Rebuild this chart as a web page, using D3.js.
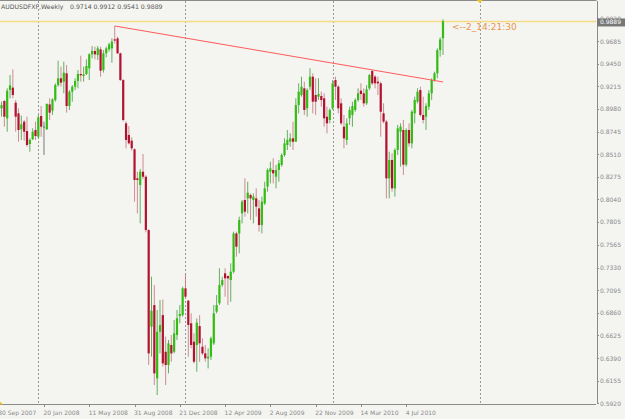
<!DOCTYPE html>
<html>
<head>
<meta charset="utf-8">
<script src="https://cdn.jsdelivr.net/npm/d3@7/dist/d3.min.js"></script>
<style>
  body { margin: 0; background: #f4f4f1; }
  svg { display: block; }
  .axis text { font-family: "DejaVu Sans", sans-serif; font-size: 6px; fill: #8a8a8a; }
  .axis line, .axis path { stroke: #8a8a8a; shape-rendering: crispEdges; }
</style>
</head>
<body>
<div class="canvas"></div>
<script>
// chart info
const symbol = 'AUDUSDFXF';
const period = 'Weekly';
const timeLeft = '<--2_14:21:30';

// weekly bars, 30 Sep 2007 .. 3 Oct 2010 (one value per week)
const open = [
  .9000,.8986,.9062,.8882,.9176,.9201,.9045,.8934,.8768,.8847,
  .8750,.8615,.8664,.8761,.8691,.8906,.8795,.8768,.9027,.8962,
  .9072,.9228,.9298,.9263,.9350,.9010,.9159,.9211,.9270,.9343,
  .9322,.9343,.9402,.9547,.9582,.9540,.9599,.9384,.9558,.9599,
  .9609,.9703,.9713,.9558,.9280,.8830,.8709,.8650,.8560,.8258,
  .8189,.8327,.8275,.7721,.6716,.6941,.6179,.6664,.6837,.6456,
  .6318,.6526,.6456,.6630,.6827,.6837,.7115,.6987,.6751,.6560,
  .6526,.6723,.6508,.6439,.6387,.6404,.6543,.6872,.6959,.7149,
  .7271,.7243,.7201,.7288,.7686,.7686,.7894,.8033,.8050,.8085,
  .8033,.8050,.7946,.7773,.7998,.8172,.8327,.8345,.8275,.8345,
  .8397,.8501,.8605,.8639,.8674,.8639,.9020,.9124,.9194,.8986,
  .9211,.9315,.9124,.9107,.9114,.9090,.8899,.8865,.8986,.9280,
  .9211,.9038,.8795,.8657,.8882,.8917,.8969,.9073,.9170,.9142,
  .9038,.9194,.9374,.9315,.9263,.9246,.8934,.8847,.8258,.8449,
  .8154,.8553,.8743,.8761,.8400,.8761,.8622,.8934,.9055,.9176,
  .8917,.8899,.9003,.9142,.9280,.9350,.9592,.9714
];
const high = [
  .9050,.9055,.9072,.9194,.9332,.9391,.9072,.8986,.8910,.8865,
  .8899,.8674,.8778,.8847,.8917,.9010,.8847,.9038,.9090,.9090,
  .9246,.9481,.9419,.9471,.9436,.9176,.9228,.9298,.9384,.9533,
  .9419,.9495,.9558,.9634,.9627,.9634,.9627,.9592,.9627,.9668,
  .9713,.9842,.9731,.9565,.9290,.8850,.8802,.8684,.8570,.8327,
  .8355,.8511,.8290,.7730,.7236,.7149,.6889,.6993,.7000,.6613,
  .6578,.6630,.6785,.6889,.6941,.7132,.7264,.6993,.6855,.6647,
  .6803,.6837,.6595,.6526,.6491,.6613,.6941,.7045,.7323,.7236,
  .7323,.7250,.7375,.7704,.7704,.7860,.8033,.8258,.8223,.8102,
  .8102,.8154,.8033,.8068,.8223,.8362,.8431,.8466,.8397,.8449,
  .8518,.8674,.8761,.8726,.8847,.9090,.9246,.9315,.9263,.9194,
  .9402,.9350,.9298,.9298,.9159,.9142,.9003,.8986,.9280,.9315,
  .9228,.9090,.8917,.8882,.9003,.9055,.9090,.9194,.9246,.9194,
  .9228,.9343,.9384,.9332,.9315,.9263,.9038,.8865,.8535,.8518,
  .8570,.8813,.8830,.8865,.8778,.8830,.8969,.9107,.9194,.9211,
  .9107,.9038,.9176,.9298,.9367,.9610,.9724,.9912
];
const low = [
  .8930,.8899,.8795,.8743,.9090,.9090,.8743,.8639,.8657,.8650,
  .8587,.8535,.8657,.8657,.8674,.8691,.8501,.8761,.8865,.8917,
  .9055,.9211,.9211,.9142,.8941,.8968,.9055,.9176,.9194,.9263,
  .9263,.9332,.9280,.9506,.9495,.9488,.9315,.9357,.9516,.9575,
  .9460,.9660,.9550,.9270,.8850,.8570,.8610,.8546,.8016,.7894,
  .7790,.8250,.7697,.6318,.6404,.6110,.6006,.6439,.6300,.6110,
  .6231,.6352,.6439,.6578,.6751,.6820,.7011,.6404,.6491,.6335,
  .6248,.6352,.6422,.6352,.6283,.6370,.6526,.6855,.6941,.7132,
  .7028,.6941,.6976,.7271,.7444,.7479,.7790,.7860,.7894,.7825,
  .7790,.7860,.7704,.7686,.7981,.8120,.8206,.8206,.8154,.8223,
  .8379,.8483,.8553,.8587,.8553,.8639,.8934,.9107,.8917,.8899,
  .9176,.8934,.8917,.9072,.9003,.8795,.8726,.8830,.8969,.9073,
  .8934,.8813,.8570,.8605,.8813,.8795,.8951,.9055,.9073,.9003,
  .9021,.9176,.9228,.9194,.9124,.8691,.8830,.8050,.8050,.8120,
  .8068,.8501,.8380,.8293,.8380,.8587,.8570,.8830,.9038,.8899,
  .8830,.8761,.8969,.9073,.9263,.9298,.9523,.9541
];
const close = [
  .9030,.9020,.8899,.9169,.9225,.9124,.8899,.8761,.8820,.8743,
  .8605,.8657,.8743,.8698,.8892,.8795,.8795,.9031,.8941,.9079,
  .9228,.9298,.9253,.9357,.9010,.9159,.9211,.9270,.9343,.9329,
  .9339,.9426,.9547,.9582,.9547,.9609,.9377,.9558,.9609,.9651,
  .9679,.9690,.9558,.9280,.8865,.8657,.8622,.8570,.8241,.8241,
  .8327,.8275,.7721,.6439,.6882,.6231,.6664,.6734,.6335,.6318,
  .6543,.6439,.6647,.6803,.6848,.7115,.7028,.6734,.6526,.6352,
  .6758,.6543,.6439,.6387,.6404,.6595,.6855,.6941,.7149,.7201,
  .7219,.7219,.7288,.7686,.7548,.7825,.8016,.7912,.8109,.8050,
  .8068,.7964,.7773,.8016,.8154,.8345,.8362,.8310,.8345,.8414,
  .8501,.8622,.8657,.8674,.8639,.9020,.9159,.9211,.8969,.9176,
  .9315,.9055,.9055,.9135,.9072,.8882,.8830,.8969,.9246,.9211,
  .8986,.8830,.8674,.8830,.8969,.9010,.9073,.9142,.9135,.9038,
  .9183,.9332,.9246,.9246,.9246,.8951,.8847,.8258,.8449,.8154,
  .8553,.8778,.8795,.8400,.8761,.8622,.8951,.9073,.9159,.8917,
  .8865,.9010,.9142,.9280,.9350,.9592,.9703,.9889
];

// axis ticks
const priceTicks = [0.9920, 0.9685, 0.9450, 0.9215, 0.8980, 0.8745, 0.8510, 0.8275, 0.8040,
  0.7805, 0.7565, 0.7330, 0.7095, 0.6860, 0.6625, 0.6390, 0.6155, 0.5920];
const dateTickIdx = [0, 16, 32, 48, 64, 80, 96, 112, 128, 144];
const dateTickLabels = ['30 Sep 2007', '20 Jan 2008', '11 May 2008', '31 Aug 2008', '21 Dec 2008',
  '12 Apr 2009', '2 Aug 2009', '22 Nov 2009', '14 Mar 2010', '4 Jul 2010'];
// first week of each year (vertical grid)
const yearIdx = [14, 66, 118, 170];

// trend line drawn on the chart (bar index, price)
const trendIdx = [41, 157];
const trendPrice = [0.9842, 0.9260];

// dimensions
const dims = { width: 625, height: 419, right: 596.5, bottom: 403.5 };

const svg = d3.select('.canvas')
  .append('svg')
    .attr('width', dims.width)
    .attr('height', dims.height);

svg.append('rect')
  .attr('width', dims.width)
  .attr('height', dims.height)
  .attr('fill', '#f4f4f1');

// scales - 211 bar slots across the plot, last ones left empty
const x = d3.scaleLinear().domain([0, 211]).range([-1.3, 595.8]);
const y = d3.scaleLinear().domain([0.592, 1.0112]).range([403.3, 0]);

svg.append('defs').append('clipPath').attr('id', 'plot')
  .append('rect').attr('x', 0).attr('y', 1).attr('width', dims.right).attr('height', dims.bottom - 1);

const plot = svg.append('g').attr('clip-path', 'url(#plot)');

// year grid
plot.selectAll('line.grid')
  .data(yearIdx)
  .enter()
  .append('line')
    .attr('class', 'grid')
    .attr('x1', d => Math.round(x(d)) + 0.5)
    .attr('x2', d => Math.round(x(d)) + 0.5)
    .attr('y1', 1)
    .attr('y2', dims.bottom)
    .attr('stroke', '#9a9a9a')
    .attr('stroke-dasharray', '2,2');

// bid line
const last = close.length - 1;
plot.append('line')
  .attr('x1', 0).attr('x2', dims.right)
  .attr('y1', y(close[last])).attr('y2', y(close[last]))
  .attr('stroke', '#f7dc86')
  .attr('stroke-width', 1.6);

// candles
const bars = d3.range(open.length);
const up = i => close[i] > open[i];
const flat = i => close[i] === open[i];

plot.selectAll('line.wick')
  .data(bars)
  .enter()
  .append('line')
    .attr('class', 'wick')
    .attr('x1', i => x(i))
    .attr('x2', i => x(i))
    .attr('y1', i => y(high[i]))
    .attr('y2', i => y(low[i]))
    .attr('stroke', i => flat(i) ? '#777' : up(i) ? '#3f9f3a' : '#c5707c')
    .attr('stroke-opacity', i => flat(i) ? 1 : 0.8)
    .attr('stroke-width', 1);

plot.selectAll('rect.body')
  .data(bars)
  .enter()
  .append('rect')
    .attr('class', 'body')
    .attr('x', i => x(i) - 1.1)
    .attr('width', 2.2)
    .attr('y', i => y(Math.max(open[i], close[i])))
    .attr('height', i => Math.max(1, Math.abs(y(open[i]) - y(close[i]))))
    .attr('fill', i => flat(i) ? '#777' : up(i) ? '#34bc14' : '#b2122e');

// trend line
const trend = d3.line()
  .x(d => x(d[0]))
  .y(d => y(d[1]));

plot.append('path')
  .attr('d', trend(d3.zip(trendIdx, trendPrice)))
  .attr('fill', 'none')
  .attr('stroke', '#ff5a5a')
  .attr('stroke-width', 1);

// time left label
svg.append('text')
  .attr('x', x(last) + 9)
  .attr('y', y(close[last]) + 9)
  .attr('font-family', 'DejaVu Sans, sans-serif')
  .attr('font-size', 9)
  .attr('fill', '#e8944e')
  .text(timeLeft);

// frame top
svg.append('line')
  .attr('x1', 0).attr('x2', dims.right)
  .attr('y1', 0.5).attr('y2', 0.5)
  .attr('stroke', '#8a8a8a');

// price axis
svg.append('g')
  .attr('class', 'axis')
  .attr('transform', `translate(${dims.right}, 0)`)
  .call(d3.axisRight(y).tickValues(priceTicks).tickSize(2).tickSizeOuter(0).tickFormat(d3.format('.4f')))
  .call(g => g.selectAll('text').attr('x', 3.5));

// date axis
svg.append('g')
  .attr('class', 'axis')
  .attr('transform', `translate(0, ${dims.bottom})`)
  .call(d3.axisBottom(x).tickValues(dateTickIdx).tickSize(3).tickSizeOuter(0)
    .tickFormat((d, k) => dateTickLabels[k]))
  .call(g => g.selectAll('text').attr('text-anchor', 'start').attr('dx', -1).attr('y', 7));

// current price box (covers most of the top tick label, as in the terminal)
const bidY = y(close[last]);
svg.append('rect')
  .attr('x', dims.right + 0.5).attr('y', bidY - 3)
  .attr('width', 28).attr('height', 8)
  .attr('fill', '#787878');
svg.append('text')
  .attr('x', dims.right + 3.5).attr('y', bidY + 3)
  .attr('font-family', 'DejaVu Sans, sans-serif')
  .attr('font-size', 6)
  .attr('fill', '#fff')
  .text(d3.format('.4f')(close[last]));

// chart title
const title = svg.append('g')
  .attr('font-family', 'DejaVu Sans, sans-serif')
  .attr('font-size', 6.2)
  .attr('fill', '#555');
title.append('text').attr('x', 1).attr('y', 8.5).text(`${symbol},${period}`);
title.append('text').attr('x', 70).attr('y', 8.5)
  .text([open[last], high[last], low[last], close[last]].map(d3.format('.4f')).join(' '));

// shift markers
svg.append('path')
  .attr('d', `M${x(170) - 3},0 L${x(170) + 3},0 L${x(170)},3 Z`)
  .attr('fill', '#f0c420');
svg.append('path')
  .attr('d', `M0,${dims.bottom - 2} L3,${dims.bottom + 1} L0,${dims.bottom + 1} Z`)
  .attr('fill', '#f0c420');
</script>
</body>
</html>
